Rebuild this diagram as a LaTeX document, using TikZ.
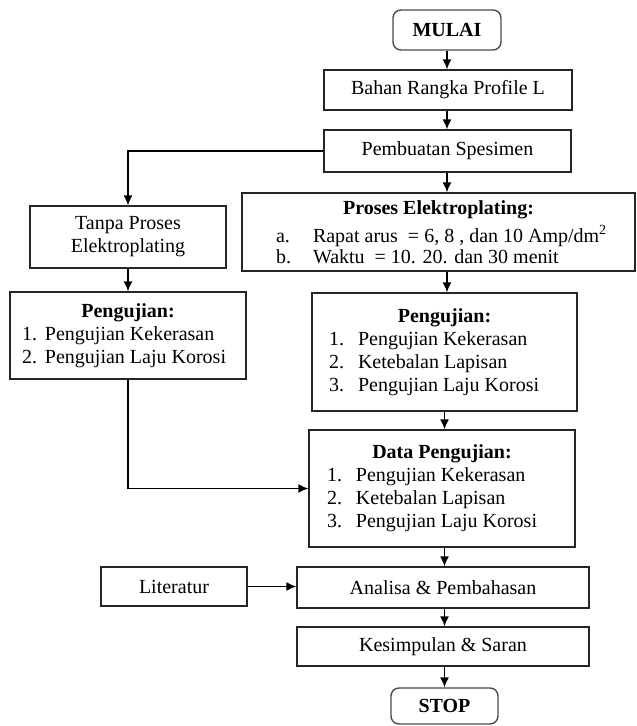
\documentclass[tikz,border=0pt]{standalone}
\usepackage{fontspec}
\setmainfont{Liberation Serif}
\usetikzlibrary{arrows.meta}
\tikzset{kotak/.append style={draw=black!85, rectangle, line width=1.4pt, inner sep=2pt, align=center, font=\fontsize{20}{23}\selectfont}}
\tikzset{bulat/.append style={kotak, rounded corners=8pt, draw=black!70, font=\fontsize{20}{23}\selectfont\bfseries}}
\tikzset{panah/.append style={-{Latex[length=10pt,width=9pt]}, line width=1.4pt}}
\newcommand{\baris}[4]{\makebox[#1pt][l]{\makebox[#2pt][l]{#3}#4}}

\begin{document}
\begin{tikzpicture}[x=1pt,y=-1pt]
                \useasboundingbox (0,0) rectangle (637,726);
                % kotak
                \node[bulat, minimum width=108pt, minimum height=40pt] (mulai) at (447,30) {MULAI};
                \node[kotak, minimum width=248pt, minimum height=40pt] (bahan) at (448,90) {Bahan Rangka Profile L};
                \node[kotak, minimum width=247pt, minimum height=42pt] (buat) at (447.5,151) {Pembuatan Spesimen};
                \node[kotak, minimum width=196pt, minimum height=62pt] (tanpa) at (128,237) {Tanpa Proses\\Elektroplating};
                \node[kotak, minimum width=393pt, minimum height=78pt, font=\fontsize{20}{21}\selectfont] (proses) at (438.5,232)
                    {\textbf{Proses Elektroplating:}\\[6pt]
                     \baris{325}{37}{a.}{Rapat arus~ = 6, 8 , dan 10 Amp/dm\textsuperscript{2}}\\
                     \baris{325}{37}{b.}{Waktu~ = 10. 20. dan 30 menit}};
                \node[kotak, minimum width=236pt, minimum height=87pt] (ujikiri) at (128,335.5)
                    {\textbf{Pengujian:}\\
                     \baris{212}{23}{1.}{Pengujian Kekerasan}\\
                     \baris{212}{23}{2.}{Pengujian Laju Korosi}};
                \node[kotak, minimum width=265pt, minimum height=118pt] (ujikanan) at (444.5,352)
                    {\textbf{Pengujian:}\\
                     \baris{231}{29}{1.}{Pengujian Kekerasan}\\
                     \baris{231}{29}{2.}{Ketebalan Lapisan}\\
                     \baris{231}{29}{3.}{Pengujian Laju Korosi}};
                \node[kotak, minimum width=266pt, minimum height=117pt] (data) at (442,488.5)
                    {\textbf{Data Pengujian:}\\
                     \baris{230}{29}{1.}{Pengujian Kekerasan}\\
                     \baris{230}{29}{2.}{Ketebalan Lapisan}\\
                     \baris{230}{29}{3.}{Pengujian Laju Korosi}};
                \node[kotak, minimum width=146pt, minimum height=39pt] (literatur) at (174,586.5) {Literatur};
                \node[kotak, minimum width=292pt, minimum height=41pt] (analisa) at (443,587.5) {Analisa \& Pembahasan};
                \node[kotak, minimum width=292pt, minimum height=39pt] (simpul) at (443,646.5) {Kesimpulan \& Saran};
                \node[bulat, minimum width=107pt, minimum height=36pt] (stop) at (444.5,706) {STOP};
                % panah
                \draw[panah] (mulai.south) -- (mulai.south |- bahan.north);
                \draw[panah] (bahan.south -| mulai) -- (mulai |- buat.north);
                \draw[panah] (buat.south -| mulai) -- (mulai |- proses.north);
                \draw[panah] (buat.west) -| (tanpa.north);
                \draw[panah] (tanpa.south) -- (tanpa.south |- ujikiri.north);
                \draw[panah] (proses.south -| mulai) -- (mulai |- ujikanan.north);
                \draw[panah] (ujikanan.south) -- (ujikanan.south |- data.north);
                \draw[panah] (ujikiri.south) |- (data.west);
                \draw[panah] (data.south -| ujikanan) -- (ujikanan |- analisa.north);
                \draw[panah] (literatur) -- (literatur -| analisa.west);
                \draw[panah] (analisa.south -| ujikanan) -- (ujikanan |- simpul.north);
                \draw[panah] (simpul.south -| ujikanan) -- (ujikanan |- stop.north);
            \end{tikzpicture}
\end{document}
